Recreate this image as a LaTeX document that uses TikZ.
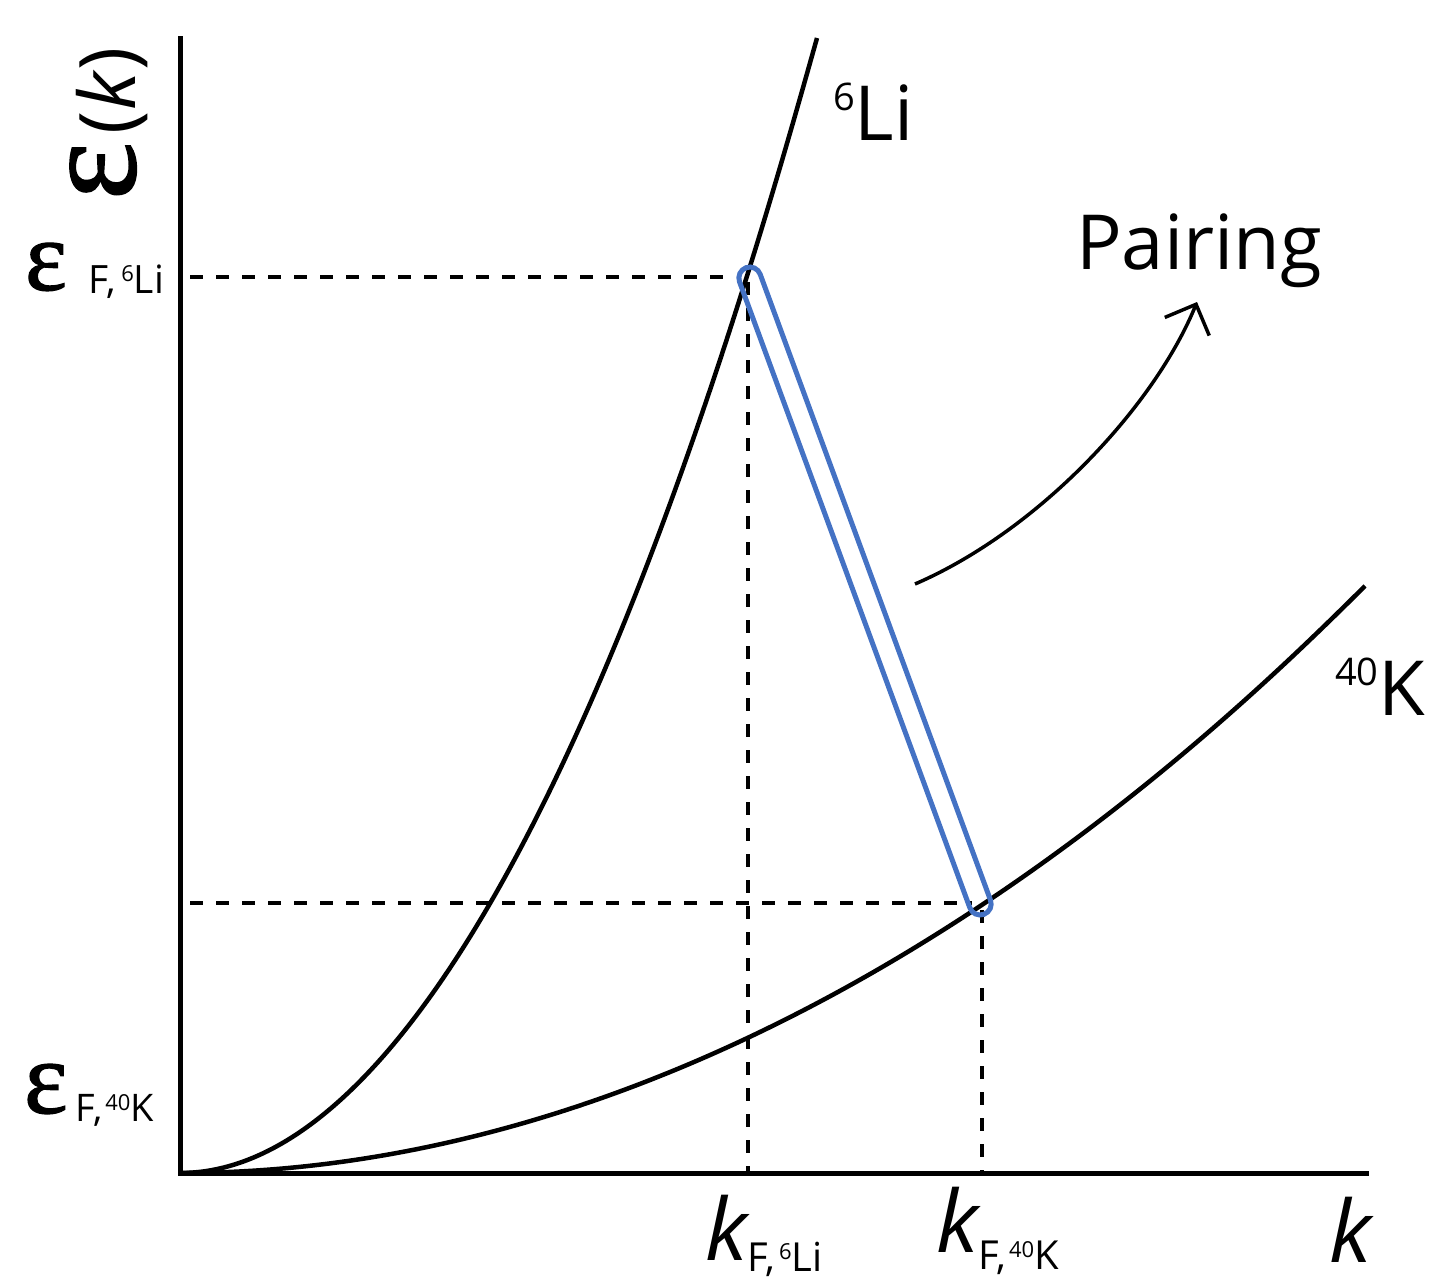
\documentclass[tikz,border=0pt]{standalone}
\usepackage{fontspec}
\setmainfont{Open Sans}
\newfontfamily\epsfam[FakeBold=1.2]{Liberation Serif}
\usetikzlibrary{arrows.meta}
\definecolor{pairblue}{HTML}{4472C4}
\newcommand\supnum[3]{\raisebox{#2}{\fontsize{#1}{#1}\selectfont #3}}
\begin{document}
\begin{tikzpicture}[x=1pt,y=-1pt,
  axisline/.style={line width=5pt, line cap=rect},
  curveline/.style={line width=4.5pt},
  guide/.style={line width=4pt, dash pattern=on 13pt off 13pt},
  pairbox/.style={draw=pairblue, line width=5pt, rectangle, rounded corners=11pt,
    minimum width=689pt, minimum height=22pt, inner sep=0pt},
  pairarrow/.style={line width=3.5pt, -{Straight Barb[length=24pt,width=48pt,line width=3.5pt]}},
  lbl/.style={inner sep=0pt, outer sep=0pt, anchor=base west},
  big/.style={font=\fontsize{76}{80}\selectfont},
]
\useasboundingbox (0,0) rectangle (1439,1285);
% axes
\coordinate (O) at (180,1173);
\coordinate (ytop) at (180,38);
\coordinate (xend) at (1366,1173);
\draw[axisline] (ytop) -- (O) -- (xend);
% dispersion curves
\coordinate (Litop) at (817,38);
\coordinate (Kend) at (1365,586);
\draw[curveline] (O) parabola (Litop);
\draw[curveline] (O) parabola (Kend);
% guide lines
\coordinate (gA1) at (190,277);
\coordinate (gA2) at (725,277);
\coordinate (gB1) at (748,282);
\coordinate (gB2) at (748,1171);
\coordinate (gC1) at (190,903);
\coordinate (gC2) at (972,903);
\coordinate (gD1) at (982,910);
\coordinate (gD2) at (982,1171);
\draw[guide] (gA1) -- (gA2);
\draw[guide] (gB1) -- (gB2);
\draw[guide] (gC1) -- (gC2);
\draw[guide] (gD1) -- (gD2);
% pairing capsule
\node[pairbox, rotate=-69.8] (pair) at (865,591) {};
% pairing arrow
\coordinate (as) at (915,584);
\coordinate (ae) at (1197,302);
\draw[pairarrow] (as) .. controls (1040,530) and (1155,405) .. (ae);
% labels
\node[lbl, big] (pairing) at (1076,269) {Pairing};
\node[lbl, big] (li) at (833,140) {\supnum{38}{30pt}{6}Li};
\node[lbl, big] (kk) at (1335,715) {\supnum{38}{30pt}{40}K};
\node[lbl, font=\fontsize{86}{88}\selectfont\itshape] (kax) at (1329,1262) {k};
\node[lbl, rotate=90] (eps) at (135,200) {{\epsfam\fontsize{138}{140}\selectfont ε}\hspace{8pt}{\fontsize{78}{80}\selectfont(\textit{k})}};
\node[lbl] (eLi) at (25,290) {{\epsfam\fontsize{100}{100}\selectfont ε}\hspace{22pt}\raisebox{-3pt}{\fontsize{39}{40}\selectfont F,\hspace{5pt}\supnum{22}{12pt}{6}Li}};
\node[lbl] (eK) at (24,1113) {{\epsfam\fontsize{104}{104}\selectfont ε}\hspace{8pt}\raisebox{-8pt}{\fontsize{38}{40}\selectfont F,\hspace{3pt}\supnum{22}{11pt}{40}K}};
\node[lbl] (kLi) at (705,1260) {{\fontsize{86}{88}\selectfont\itshape k}\raisebox{-11pt}{\fontsize{40}{40}\selectfont F,\hspace{4pt}\supnum{22}{12pt}{6}Li}};
\node[lbl] (kK) at (936,1252) {{\fontsize{86}{88}\selectfont\itshape k}\raisebox{-17pt}{\fontsize{40}{40}\selectfont F,\hspace{3pt}\supnum{22}{12pt}{40}K}};
\end{tikzpicture}
\end{document}
